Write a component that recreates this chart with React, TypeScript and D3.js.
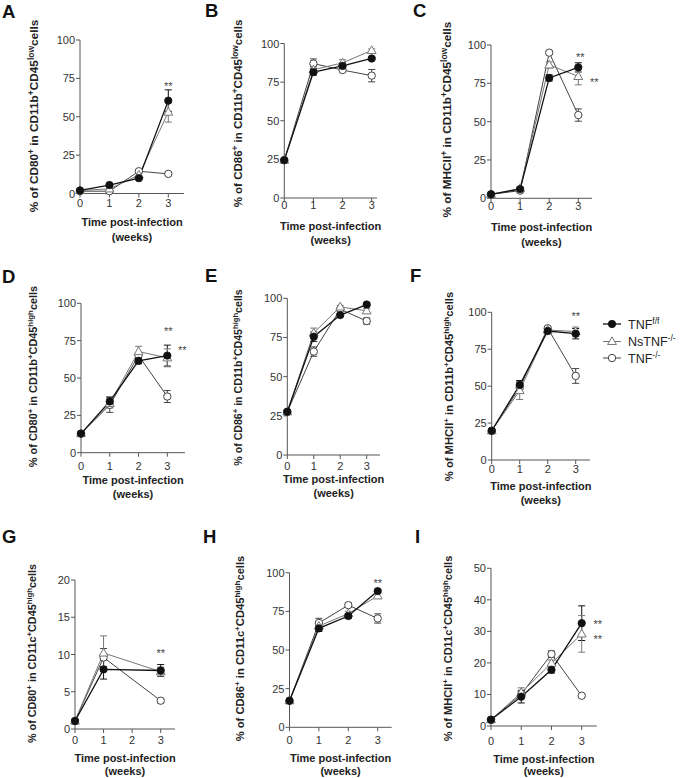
import React from 'react';
import * as d3 from 'd3';

const FONT = "'Liberation Sans', Arial, sans-serif";

const WEEKS = [0, 1, 2, 3];
const SERIES_NAMES = ['TNF', 'NsTNF', 'TNF'];
const SERIES_SUPS = ['f/f', '-/-', '-/-'];

// values: TNF f/f (ff), NsTNF-/- (ns), TNF-/- (ko)
const A_ff = [2, 5.5, 10, 60.5];
const A_ns = [2, 3, 12, 53];
const A_ko = [1.5, 1.5, 14.5, 12.8];
const A_ffErr = [0.5, 1, 1, 7];
const A_nsErr = [0.5, 0.5, 1.5, 6.5];
const A_koErr = [0.5, 0.5, 1, 1];

const B_ff = [24.5, 81.5, 85.5, 90.3];
const B_ns = [24.5, 83, 87.5, 95.5];
const B_ko = [24.5, 87, 82.8, 79.2];
const B_ffErr = [1, 2, 2, 0.8];
const B_nsErr = [1, 2, 2, 1];
const B_koErr = [1, 3, 1, 4];

const C_ff = [2.6, 6, 78.5, 85.4];
const C_ns = [2.6, 6.5, 87, 79.5];
const C_ko = [2.6, 5, 95, 54.3];
const C_ffErr = [0.5, 1, 2, 3];
const C_nsErr = [0.5, 1, 2, 5.5];
const C_koErr = [0.5, 1, 1, 4];

const D_ff = [12.8, 34.3, 61.5, 65];
const D_ns = [12.8, 33, 67.7, 63.5];
const D_ko = [12.8, 32, 65, 37.6];
const D_ffErr = [1, 3, 2, 7];
const D_nsErr = [1, 3, 3.5, 6];
const D_koErr = [1, 5, 2, 4];

const E_ff = [27.6, 75.5, 89.3, 96];
const E_ns = [27.6, 78, 94.5, 92];
const E_ko = [27.6, 66, 93, 85.5];
const E_ffErr = [1, 3, 1, 1];
const E_nsErr = [1, 3, 1, 1.5];
const E_koErr = [1, 3, 1, 2];

const F_ff = [19.8, 50.8, 87.3, 85.5];
const F_ns = [19.8, 47, 88, 87];
const F_ko = [19.8, 49, 89.2, 56.9];
const F_ffErr = [1, 3, 1, 3.5];
const F_nsErr = [1, 6, 1, 3];
const F_koErr = [1, 3, 1, 5];

const G_ff = [1.07, 8, null, 7.85];
const G_ns = [1.07, 10.2, null, 7.7];
const G_ko = [1.07, 9.6, null, 3.8];
const G_ffErr = [0.15, 1.3, null, 0.8];
const G_nsErr = [0.15, 2.3, null, 0.6];
const G_koErr = [0.15, 1.2, null, 0.3];

const H_ff = [17.2, 64, 72, 88.1];
const H_ns = [17.2, 65.5, 73.5, 85];
const H_ko = [17.2, 67.5, 79, 70.4];
const H_ffErr = [1, 2, 1.5, 1];
const H_nsErr = [1, 2, 1.5, 1.5];
const H_koErr = [1, 3, 1.5, 3];

const I_ff = [2, 9.3, 17.8, 32.6];
const I_ns = [2, 10.6, 19.9, 29.2];
const I_ko = [2, 10, 22.8, 9.6];
const I_ffErr = [0.5, 2, 1, 5.5];
const I_nsErr = [0.5, 1.5, 1, 5.8];
const I_koErr = [0.5, 1, 1, 0.5];

const TICKS_100 = [0, 25, 50, 75, 100];
const TICKS_20 = [0, 5, 10, 15, 20];
const TICKS_50 = [0, 10, 20, 30, 40, 50];

// significance marks: [week, value, pixel offset]
const A_sig = [[3, 71.6, 0]];
const B_sig: number[][] = [];
const C_sig = [[3, 94, 2], [3, 77.8, 16]];
const D_sig = [[3, 83.3, 1], [3, 70.6, 15]];
const E_sig: number[][] = [];
const F_sig = [[3, 99.3, 0]];
const G_sig = [[3, 10.6, 0]];
const H_sig = [[3, 95.2, 0]];
const I_sig = [[3, 33.1, 16], [3, 28.3, 16]];

const PANELS = [
  { id: 'A', m: 'CD80', g: 'CD11b', l: 'low', ff: A_ff, ns: A_ns, ko: A_ko, ffE: A_ffErr, nsE: A_nsErr, koE: A_koErr, max: 100, ticks: TICKS_100, sig: A_sig },
  { id: 'B', m: 'CD86', g: 'CD11b', l: 'low', ff: B_ff, ns: B_ns, ko: B_ko, ffE: B_ffErr, nsE: B_nsErr, koE: B_koErr, max: 100, ticks: TICKS_100, sig: B_sig },
  { id: 'C', m: 'MHCII', g: 'CD11b', l: 'low', ff: C_ff, ns: C_ns, ko: C_ko, ffE: C_ffErr, nsE: C_nsErr, koE: C_koErr, max: 100, ticks: TICKS_100, sig: C_sig },
  { id: 'D', m: 'CD80', g: 'CD11b', l: 'high', ff: D_ff, ns: D_ns, ko: D_ko, ffE: D_ffErr, nsE: D_nsErr, koE: D_koErr, max: 100, ticks: TICKS_100, sig: D_sig },
  { id: 'E', m: 'CD86', g: 'CD11b', l: 'high', ff: E_ff, ns: E_ns, ko: E_ko, ffE: E_ffErr, nsE: E_nsErr, koE: E_koErr, max: 100, ticks: TICKS_100, sig: E_sig },
  { id: 'F', m: 'MHCII', g: 'CD11b', l: 'high', ff: F_ff, ns: F_ns, ko: F_ko, ffE: F_ffErr, nsE: F_nsErr, koE: F_koErr, max: 100, ticks: TICKS_100, sig: F_sig },
  { id: 'G', m: 'CD80', g: 'CD11c', l: 'high', ff: G_ff, ns: G_ns, ko: G_ko, ffE: G_ffErr, nsE: G_nsErr, koE: G_koErr, max: 20, ticks: TICKS_20, sig: G_sig },
  { id: 'H', m: 'CD86', g: 'CD11c', l: 'high', ff: H_ff, ns: H_ns, ko: H_ko, ffE: H_ffErr, nsE: H_nsErr, koE: H_koErr, max: 100, ticks: TICKS_100, sig: H_sig },
  { id: 'I', m: 'MHCII', g: 'CD11c', l: 'high', ff: I_ff, ns: I_ns, ko: I_ko, ffE: I_ffErr, nsE: I_nsErr, koE: I_koErr, max: 50, ticks: TICKS_50, sig: I_sig },
];

// layout (pixels)
const LAYOUT: Record<string, any> = {
  A: { ax: 80, x3: 168.3, xEnd: 184, y0: 193.5, yTop: 40, tickY: 207, t1: 226, t2: 241, tx: 38, ty: 116, fs: 11.8, lx: 2, ly: 18 },
  B: { ax: 284.3, x3: 371.7, xEnd: 377, y0: 198, yTop: 43.5, tickY: 209, t1: 230, t2: 244, tx: 242, ty: 113.5, fs: 11.5, lx: 205, ly: 17 },
  C: { ax: 491, x3: 578.3, xEnd: 592, y0: 198.3, yTop: 45, tickY: 210, t1: 231, t2: 246, tx: 451, ty: 119.5, fs: 11.8, lx: 413, ly: 17 },
  D: { ax: 81, x3: 167.3, xEnd: 185, y0: 452.7, yTop: 303.3, tickY: 470, t1: 484, t2: 498, tx: 37, ty: 376.5, fs: 10.9, lx: 2, ly: 283 },
  E: { ax: 287.3, x3: 366.7, xEnd: 380, y0: 455, yTop: 298.3, tickY: 470, t1: 483, t2: 497, tx: 242, ty: 377.5, fs: 10.6, lx: 205, ly: 282 },
  F: { ax: 491.7, x3: 575.7, xEnd: 590, y0: 460, yTop: 312.3, tickY: 473, t1: 490, t2: 504, tx: 453, ty: 386.5, fs: 11.2, lx: 410, ly: 282 },
  G: { ax: 75, x3: 160.7, xEnd: 175, y0: 729, yTop: 580, tickY: 744, t1: 762, t2: 775, tx: 36, ty: 653.5, fs: 10.8, lx: 2, ly: 543 },
  H: { ax: 289.5, x3: 377.7, xEnd: 391.7, y0: 727.3, yTop: 572.7, tickY: 744, t1: 762, t2: 775, tx: 244, ty: 648.5, fs: 11.2, lx: 203, ly: 543 },
  I: { ax: 491, x3: 581.7, xEnd: 596.7, y0: 726, yTop: 568.3, tickY: 745, t1: 763, t2: 775, tx: 452, ty: 648.5, fs: 11, lx: 415, ly: 543 },
};

const STYLE = [
  { key: 'ff', stroke: '#111', width: 1.3, marker: 'fcircle' },
  { key: 'ns', stroke: '#777', width: 1, marker: 'triangle' },
  { key: 'ko', stroke: '#444', width: 1, marker: 'ocircle' },
];

const triPath = d3.symbol(d3.symbolTriangle, 34)() as string;

function Marker({ type, x, y, stroke }: { type: string; x: number; y: number; stroke: string }) {
  if (type === 'fcircle') return <circle cx={x} cy={y} r={3.7} fill="#111" stroke="#111" strokeWidth={0.8} />;
  if (type === 'ocircle') return <circle cx={x} cy={y} r={3.7} fill="#fff" stroke={stroke} strokeWidth={1} />;
  return <path d={triPath} transform={`translate(${x},${y + 0.5})`} fill="#fff" stroke={stroke} strokeWidth={1} />;
}

function Panel({ p }: { p: any }) {
  const L = LAYOUT[p.id];
  const x = d3.scaleLinear().domain([0, 3]).range([L.ax, L.x3]);
  const y = d3.scaleLinear().domain([0, p.max]).range([L.y0, L.yTop]);
  const line = d3.line<[number, number]>().x((d) => x(d[0])).y((d) => y(d[1]));
  const fs = L.fs;
  const sh = fs * 0.38;
  const sfs = fs * 0.72;
  const series = STYLE.map((s) => {
    const vals: (number | null)[] = p[s.key];
    const errs: (number | null)[] = p[s.key + 'E'];
    const pts = WEEKS.map((w, i) => [w, vals[i], errs[i]]).filter((d) => d[1] != null) as number[][];
    return { s, pts };
  });
  return (
    <g>
      <text x={L.lx} y={L.ly} fontSize={18.5} fontWeight="bold" fill="#111">{p.id}</text>
      {/* y title */}
      <text transform={`translate(${L.tx},${L.ty}) rotate(-90)`} textAnchor="middle" fontSize={fs} fontWeight="bold" fill="#222">
        <tspan>{`% of ${p.m}`}</tspan>
        <tspan dy={-sh} fontSize={sfs}>+</tspan>
        <tspan dy={sh}>{` in ${p.g}`}</tspan>
        <tspan dy={-sh} fontSize={sfs}>+</tspan>
        <tspan dy={sh}>CD45</tspan>
        <tspan dy={-sh} fontSize={sfs}>{p.l}</tspan>
        <tspan dy={sh}>cells</tspan>
      </text>
      {/* axes */}
      <line x1={L.ax} x2={L.ax} y1={L.y0} y2={L.yTop} stroke="#555" strokeWidth={1} />
      <line x1={L.ax} x2={L.xEnd} y1={L.y0} y2={L.y0} stroke="#555" strokeWidth={1} />
      {p.ticks.map((t: number) => (
        <g key={'yt' + t}>
          <line x1={L.ax - 4} x2={L.ax} y1={y(t)} y2={y(t)} stroke="#555" strokeWidth={1} />
          <text x={L.ax - 5} y={y(t) + 4} textAnchor="end" fontSize={11} fill="#333">{t}</text>
        </g>
      ))}
      {WEEKS.map((w) => (
        <g key={'xt' + w}>
          <line x1={x(w)} x2={x(w)} y1={L.y0} y2={L.y0 + 4} stroke="#555" strokeWidth={1} />
          <text x={x(w)} y={L.tickY} textAnchor="middle" fontSize={11} fill="#333">{w}</text>
        </g>
      ))}
      <text x={(L.ax + L.xEnd) / 2} y={L.t1} textAnchor="middle" fontSize={11} fontWeight="bold" fill="#222">Time post-infection</text>
      <text x={(L.ax + L.xEnd) / 2} y={L.t2} textAnchor="middle" fontSize={11} fontWeight="bold" fill="#222">(weeks)</text>
      {/* lines */}
      {series.slice().reverse().map(({ s, pts }) => (
        <path key={'l' + s.key} d={line(pts.map((d) => [d[0], d[1]] as [number, number])) as string} fill="none" stroke={s.stroke} strokeWidth={s.width} />
      ))}
      {/* error bars */}
      {series.map(({ s, pts }) =>
        pts.map((d) => (
          <g key={'e' + s.key + d[0]} stroke={s.stroke} strokeWidth={1}>
            <line x1={x(d[0])} x2={x(d[0])} y1={y(d[1] - d[2])} y2={y(d[1] + d[2])} />
            <line x1={x(d[0]) - 3.5} x2={x(d[0]) + 3.5} y1={y(d[1] + d[2])} y2={y(d[1] + d[2])} />
            <line x1={x(d[0]) - 3.5} x2={x(d[0]) + 3.5} y1={y(d[1] - d[2])} y2={y(d[1] - d[2])} />
          </g>
        ))
      )}
      {/* markers */}
      {series.slice().reverse().map(({ s, pts }) =>
        pts.map((d) => <Marker key={'m' + s.key + d[0]} type={s.marker} x={x(d[0])} y={y(d[1])} stroke={s.stroke} />)
      )}
      {p.sig.map((sg: number[], i: number) => (
        <text key={'sig' + i} x={x(sg[0]) + sg[2]} y={y(sg[1]) + 6.5} textAnchor="middle" fontSize={11} fill="#444">**</text>
      ))}
    </g>
  );
}

function Legend() {
  const rows = [324, 341.5, 358];
  return (
    <g>
      {STYLE.map((s, i) => (
        <g key={s.key}>
          <line x1={603} x2={621} y1={rows[i]} y2={rows[i]} stroke={s.stroke} strokeWidth={s.width} />
          <Marker type={s.marker} x={612} y={rows[i]} stroke={s.stroke} />
          <text x={628} y={rows[i] + 4.5} fontSize={12.5} fill="#222">
            <tspan>{SERIES_NAMES[i]}</tspan>
            <tspan dy={-5} fontSize={8.5}>{SERIES_SUPS[i]}</tspan>
          </text>
        </g>
      ))}
    </g>
  );
}

export default function App() {
  return (
    <svg width={685} height={778} viewBox="0 0 685 778" style={{ position: 'absolute', left: 0, top: 0, background: '#fff', fontFamily: FONT }}>
      <rect x={0} y={0} width={685} height={778} fill="#fff" />
      {PANELS.map((p) => (
        <Panel key={p.id} p={p} />
      ))}
      <Legend />
    </svg>
  );
}
